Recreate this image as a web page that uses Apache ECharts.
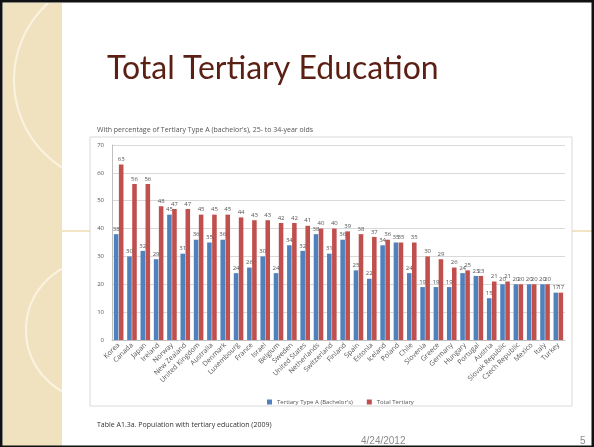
<!DOCTYPE html>
<html>
<head>
<meta charset="utf-8">
<script src="https://cdn.jsdelivr.net/npm/echarts@6/dist/echarts.min.js"></script>
<style>
  html, body { margin: 0; padding: 0; background: #fff; }
  #chart { width: 594px; height: 447px; }
</style>
</head>
<body>
<div id="chart"></div>
<script>
var myChart = echarts.init(document.getElementById('chart'));

// data (OECD table A1.3a, 25- to 34-year olds)
const countries = ['Korea', 'Canada', 'Japan', 'Ireland', 'Norway', 'New Zealand', 'United Kingdom',
    'Australia', 'Denmark', 'Luxembourg', 'France', 'Israel', 'Belgium', 'Sweden', 'United States',
    'Netherlands', 'Switzerland', 'Finland', 'Spain', 'Estonia', 'Iceland', 'Poland', 'Chile',
    'Slovenia', 'Greece', 'Germany', 'Hungary', 'Portugal', 'Austria', 'Slovak Republic',
    'Czech Republic', 'Mexico', 'Italy', 'Turkey'];
const typeA = [38, 30, 32, 29, 45, 31, 36, 35, 36, 24, 26, 30, 24, 34, 32, 38, 31, 36, 25, 22,
    34, 35, 24, 19, 19, 19, 24, 23, 15, 20, 20, 20, 20, 17];
const totalTertiary = [63, 56, 56, 48, 47, 47, 45, 45, 45, 44, 43, 43, 42, 42, 41, 40, 40, 39, 38, 37,
    36, 35, 35, 30, 29, 26, 25, 23, 21, 21, 20, 20, 20, 17];
const yTicks = [0, 10, 20, 30, 40, 50, 60, 70];

const smallFont = 'Open Sans';

const labelOpt = {
    show: true,
    position: 'top',
    distance: 2,
    fontSize: 6,
    color: '#555',
    fontFamily: smallFont
};

option = {
    backgroundColor: '#ffffff',
    animation: false,
    title: [
        {
            text: 'Total Tertiary Education',
            left: 102,
            top: 48,
            textStyle: { fontFamily: 'Lato', fontSize: 32, fontWeight: 'normal', color: '#5b1f14' }
        },
        {
            text: "With percentage of Tertiary Type A (bachelor's), 25- to 34-year olds",
            left: 92,
            top: 121,
            textStyle: { fontFamily: smallFont, fontSize: 7, fontWeight: 'normal', color: '#555' }
        },
        {
            text: 'Table A1.3a. Population with tertiary education (2009)',
            left: 92,
            top: 416,
            textStyle: { fontFamily: smallFont, fontSize: 7, fontWeight: 'normal', color: '#333' }
        },
        {
            text: '4/24/2012',
            left: 356,
            top: 431,
            textStyle: { fontFamily: 'Liberation Sans', fontSize: 10, fontWeight: 'normal', color: '#8c8c8c' }
        },
        {
            text: '5',
            left: 575,
            top: 431,
            textStyle: { fontFamily: 'Liberation Sans', fontSize: 10, fontWeight: 'normal', color: '#8c8c8c' }
        }
    ],
    legend: {
        data: ["Tertiary Type A (Bachelor's)", 'Total Tertiary'],
        left: 262,
        top: 394,
        itemWidth: 5,
        itemHeight: 5,
        itemGap: 14,
        icon: 'rect',
        textStyle: { fontFamily: smallFont, fontSize: 6, color: '#555' }
    },
    grid: {
        left: 112,
        right: 29,
        top: 145,
        bottom: 107
    },
    xAxis: {
        type: 'category',
        data: countries,
        axisTick: { show: false },
        axisLine: { lineStyle: { color: '#bfbfbf' } },
        axisLabel: {
            interval: 0,
            rotate: 45,
            fontSize: 7,
            margin: 4,
            color: '#555',
            fontFamily: smallFont
        }
    },
    yAxis: {
        type: 'value',
        min: yTicks[0],
        max: yTicks[yTicks.length - 1],
        interval: 10,
        axisLine: { show: true, lineStyle: { color: '#bfbfbf' } },
        axisTick: { show: false },
        axisLabel: { fontSize: 6, color: '#555', margin: 8, fontFamily: smallFont },
        splitLine: { lineStyle: { color: '#d9d9d9' } }
    },
    series: [
        {
            name: "Tertiary Type A (Bachelor's)",
            type: 'bar',
            data: typeA,
            barGap: '10%',
            barCategoryGap: '28%',
            itemStyle: { color: '#4f81bd' },
            label: labelOpt
        },
        {
            name: 'Total Tertiary',
            type: 'bar',
            data: totalTertiary,
            itemStyle: { color: '#c0504d' },
            label: labelOpt
        }
    ],
    graphic: [
        // slide decoration: beige strip on the left
        { type: 'rect', z: -10, shape: { x: 3, y: 3, width: 59, height: 444 }, style: { fill: '#f1e2bf' } },
        { type: 'circle', z: -9, shape: { cx: 118, cy: 80, r: 104 }, style: { fill: 'none', stroke: '#fbf3e2', lineWidth: 2 } },
        { type: 'circle', z: -9, shape: { cx: 96, cy: 330, r: 70 }, style: { fill: 'none', stroke: '#fbf3e2', lineWidth: 2 } },
        { type: 'rect', z: -8, shape: { x: 62, y: 0, width: 532, height: 447 }, style: { fill: '#ffffff' } },
        // thin gold rule across the slide
        { type: 'line', z: -7, shape: { x1: 62, y1: 231, x2: 594, y2: 231 }, style: { stroke: '#e7c98c', lineWidth: 1 } },
        // chart frame
        { type: 'rect', z: -6, shape: { x: 90, y: 137, width: 482, height: 269 }, style: { fill: '#ffffff', stroke: '#d9d9d9', lineWidth: 1 } },
        // slide border
        { type: 'rect', z: 100, shape: { x: 1, y: 1, width: 592, height: 446 }, style: { fill: 'none', stroke: '#111', lineWidth: 3 } }
    ]
};

myChart.setOption(option);
</script>
</body>
</html>
